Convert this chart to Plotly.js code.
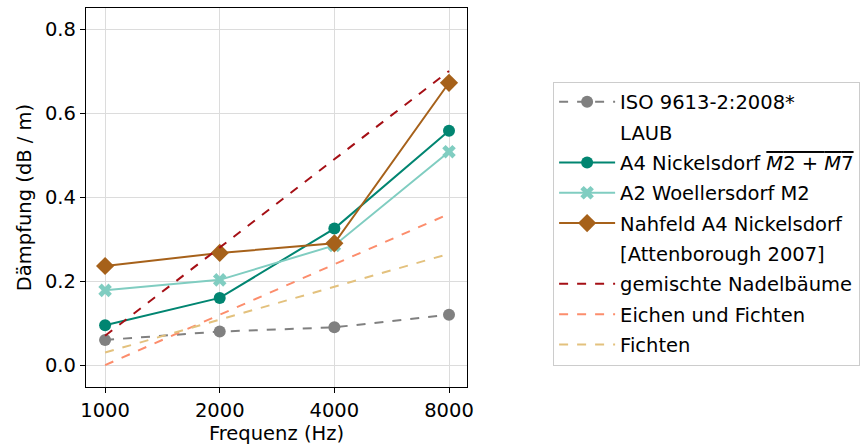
<!DOCTYPE html>
<html><head><meta charset="utf-8">
<script src="https://cdn.plot.ly/plotly-3.0.1.min.js"></script>
<style>body{margin:0;padding:0;background:#fff}#chart{width:861px;height:445px}</style>
</head><body><div id="chart"></div>
<script>
const freqs = [1000, 2000, 4000, 8000];
const tickLabels = ["1000", "2000", "4000", "8000"];
const isoVals = [0.06, 0.08, 0.09, 0.12];
const a4Vals = [0.095, 0.16, 0.325, 0.558];
const a2Vals = [0.178, 0.203, 0.285, 0.508];
const nahVals = [0.236, 0.267, 0.29, 0.672];
const nadelVals = [0.07, 0.28, 0.49, 0.70];
const eichenVals = [0.0, 0.12, 0.24, 0.36];
const fichtenVals = [0.03, 0.108, 0.186, 0.265];
const names = {
  iso: "ISO 9613-2:2008*",
  laub: "LAUB",
  a4: 'A4 Nickelsdorf <span style="text-decoration:overline"><i>M</i>2 + <i>M</i>7</span>',
  a2: "A2 Woellersdorf M2",
  nah: "Nahfeld A4 Nickelsdorf",
  att: "[Attenborough 2007]",
  nadel: "gemischte Nadelbäume",
  eichen: "Eichen und Fichten",
  fichten: "Fichten"
};

const traces = [
  {x: freqs, y: isoVals, name: names.iso, legendgroup: "g1", mode: "lines+markers",
   line: {color: "#808080", width: 2, dash: "dash"}, marker: {symbol: "circle", size: 12, color: "#808080"}},
  {x: [null], y: [null], name: names.laub, legendgroup: "g2", mode: "lines", line: {color: "rgba(0,0,0,0)", width: 2}},
  {x: freqs, y: a4Vals, name: names.a4, legendgroup: "g3", mode: "lines+markers",
   line: {color: "#018571", width: 2}, marker: {symbol: "circle", size: 12, color: "#018571"}},
  {x: freqs, y: a2Vals, name: names.a2, legendgroup: "g4", mode: "lines+markers",
   line: {color: "#80cdc1", width: 2}, marker: {symbol: "x", size: 12, color: "#80cdc1"}},
  {x: freqs, y: nahVals, name: names.nah, legendgroup: "g5", mode: "lines+markers",
   line: {color: "#a6611a", width: 2}, marker: {symbol: "diamond", size: 14, color: "#a6611a"}},
  {x: [null], y: [null], name: names.att, legendgroup: "g6", mode: "lines", line: {color: "rgba(0,0,0,0)", width: 2}},
  {x: freqs, y: nadelVals, name: names.nadel, legendgroup: "g7", mode: "lines",
   line: {color: "#a50f15", width: 2, dash: "dash"}},
  {x: freqs, y: eichenVals, name: names.eichen, legendgroup: "g8", mode: "lines",
   line: {color: "#fc8d6c", width: 2, dash: "dash"}},
  {x: freqs, y: fichtenVals, name: names.fichten, legendgroup: "g9", mode: "lines",
   line: {color: "#e3c17d", width: 2, dash: "dash"}}
];

const layout = {
  width: 861, height: 445,
  margin: {l: 86, r: 394, t: 8, b: 58, autoexpand: false},
  paper_bgcolor: "#fff", plot_bgcolor: "#fff",
  font: {family: "DejaVu Sans", size: 19.5, color: "#000"},
  showlegend: true,
  legend: {x: 1.226, y: 0.806, xanchor: "left", yanchor: "top",
    bordercolor: "#cccccc", borderwidth: 1, bgcolor: "#fff",
    font: {family: "DejaVu Sans", size: 19.5}, tracegroupgap: 2, itemwidth: 56},
  xaxis: {type: "log", range: [Math.log10(891), Math.log10(8920)],
    tickvals: freqs, ticktext: tickLabels,
    showgrid: true, gridcolor: "#dcdcdc", gridwidth: 1,
    showline: true, linecolor: "#000", linewidth: 1.3, mirror: true,
    ticks: "outside", ticklen: 5, tickcolor: "#000", zeroline: false,
    tickfont: {size: 19.5},
    title: {text: "Frequenz (Hz)", font: {size: 19.5}, standoff: 1}},
  yaxis: {range: [-0.052, 0.85], tickvals: [0, 0.2, 0.4, 0.6, 0.8], ticktext: ["0.0","0.2","0.4","0.6","0.8"],
    showgrid: true, gridcolor: "#dcdcdc", gridwidth: 1,
    showline: true, linecolor: "#000", linewidth: 1.3, mirror: true,
    ticks: "outside", ticklen: 5, tickcolor: "#000", zeroline: false,
    tickfont: {size: 19.5},
    title: {text: "Dämpfung (dB / m)", font: {size: 19.5}, standoff: 8}}
};
Plotly.newPlot("chart", traces, layout, {displayModeBar: false});
</script></body></html>
